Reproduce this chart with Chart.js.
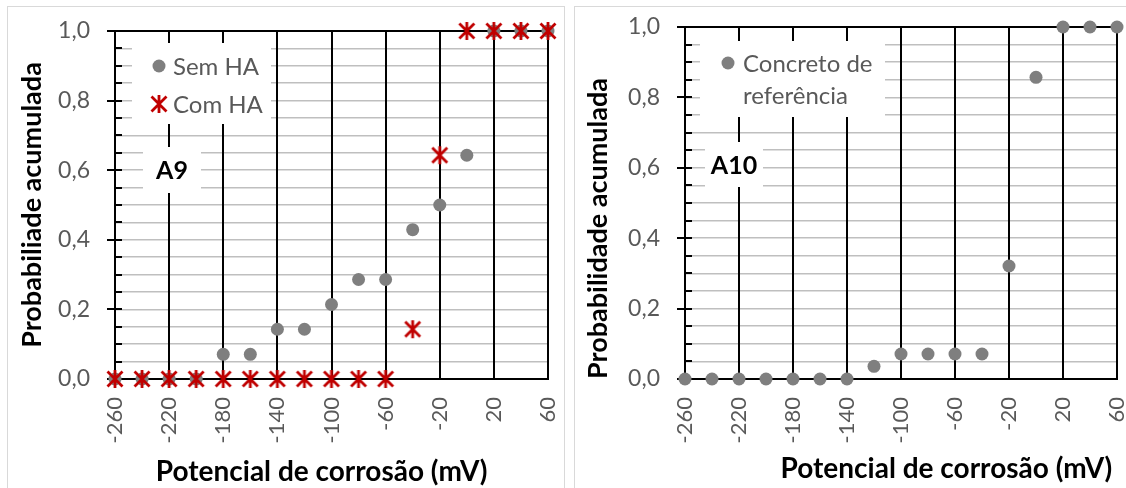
<!DOCTYPE html>
<html>
<head>
<meta charset="utf-8">
<title>Probabilidade acumulada - potencial de corrosão</title>
<script src="https://cdn.jsdelivr.net/npm/chart.js@4.4.1/dist/chart.umd.min.js"></script>
<style>
  body { margin: 0; background: #fff; width: 1126px; height: 488px; overflow: hidden; position: relative; }
  .panel { position: absolute; top: 6px; height: 500px; border: 1px solid #d9d9d9; overflow: hidden; background: #fff; }
  #panelA9 { left: 7px; width: 556px; }
  #panelA10 { left: 574px; width: 560px; }
  .panel canvas { position: absolute; left: 0; top: 0; }
</style>
</head>
<body>
<div class="panel" id="panelA9"><canvas id="chartA9" width="554" height="481"></canvas></div>
<div class="panel" id="panelA10"><canvas id="chartA10" width="552" height="481"></canvas></div>

<script>
// potencial de corrosão (mV) for every sample point
const potentials = [-260, -240, -220, -200, -180, -160, -140, -120, -100, -80, -60, -40, -20, 0, 20, 40, 60];

// A9
const semHA = [0, 0, 0, 0, 0.071, 0.071, 0.143, 0.143, 0.214, 0.286, 0.286, 0.429, 0.5, 0.643, 1, 1, 1];
const comHA = [0, 0, 0, 0, 0, 0, 0, 0, 0, 0, 0, 0.143, 0.643, 1, 1, 1, 1];

// A10
const referencia = [0, 0, 0, 0, 0, 0, 0, 0.036, 0.071, 0.071, 0.071, 0.071, 0.321, 0.857, 1, 1, 1];

const xTicks = [-260, -220, -180, -140, -100, -60, -20, 20, 60];
const xTickLabels = ['-260', '-220', '-180', '-140', '-100', '-60', '-20', '20', '60'];
const yTicks = [0, 0.05, 0.1, 0.15, 0.2, 0.25, 0.3, 0.35, 0.4, 0.45, 0.5,
                0.55, 0.6, 0.65, 0.7, 0.75, 0.8, 0.85, 0.9, 0.95, 1];
const yTickLabels = ['0,0', '', '', '', '0,2', '', '', '', '0,4', '', '',
                     '', '0,6', '', '', '', '0,8', '', '', '', '1,0'];

const GRAY = '#7f7f7f';
const RED = '#c00000';
const TEXT = '#595959';
const FONT = 'Lato, "Open Sans", sans-serif';

// asterisk-like marker: an X with a vertical stroke through it
function starMarker(size, color, width) {
  const c = document.createElement('canvas');
  c.width = size;
  c.height = size;
  const g = c.getContext('2d');
  g.strokeStyle = color;
  g.lineWidth = width;
  const m = 2.5;
  g.beginPath();
  g.moveTo(m, m); g.lineTo(size - m, size - m);
  g.moveTo(size - m, m); g.lineTo(m, size - m);
  g.moveTo(size / 2, 1); g.lineTo(size / 2, size - 1);
  g.stroke();
  return c;
}
const redStar = starMarker(20, RED, 2.8);

function points(values) {
  return potentials.map((x, i) => ({ x: x, y: values[i] }));
}

// frame line, axis tick marks, in-plot legend, panel tag and x title
const panelNotes = {
  id: 'panelNotes',
  beforeDatasetsDraw(chart, args, opts) {
    const { ctx, chartArea: a } = chart;
    const y = chart.scales.y;
    ctx.save();

    ctx.strokeStyle = '#000';
    ctx.lineWidth = 2;
    ctx.beginPath();
    ctx.moveTo(a.left, a.top);
    ctx.lineTo(a.right + 1, a.top);
    ctx.stroke();

    y.ticks.forEach(t => {
      const py = Math.round(y.getPixelForValue(t.value));
      const major = t.label !== '';
      ctx.beginPath();
      ctx.moveTo(a.left - (major ? 8 : 0), py);
      ctx.lineTo(a.left + 7, py);
      ctx.stroke();
    });

    const lg = opts.legend;
    ctx.fillStyle = '#fff';
    ctx.fillRect(a.left + lg.x, a.top + lg.y, lg.w, lg.h);
    ctx.font = lg.size + 'px ' + FONT;
    ctx.textBaseline = 'middle';
    ctx.textAlign = 'left';
    lg.rows.forEach(row => {
      if (row.dataset !== undefined) {
        const ds = chart.data.datasets[row.dataset];
        ctx.fillStyle = ds.backgroundColor || GRAY;
        Chart.helpers.drawPoint(ctx, {
          pointStyle: ds.pointStyle, radius: ds.pointRadius, rotation: 0, borderWidth: 0
        }, a.left + lg.markerX, a.top + row.y);
      }
      ctx.fillStyle = TEXT;
      ctx.fillText(row.text, a.left + lg.textX, a.top + row.y + 1);
    });

    const tag = opts.tag;
    ctx.fillStyle = '#fff';
    ctx.fillRect(a.left + tag.x, a.top + tag.y, tag.w, tag.h);
    ctx.fillStyle = '#000';
    ctx.font = 'bold ' + tag.size + 'px ' + FONT;
    ctx.textAlign = 'center';
    ctx.fillText(tag.text, a.left + tag.x + tag.w / 2, a.top + tag.y + tag.h / 2 + 1);

    const xt = opts.xTitle;
    ctx.font = 'bold ' + xt.size + 'px ' + FONT;
    ctx.textBaseline = 'alphabetic';
    ctx.fillText(xt.text, a.left + xt.center * (a.right - a.left), a.bottom + xt.baseline);

    ctx.restore();
  }
};

function makeChart(id, datasets, p) {
  return new Chart(document.getElementById(id), {
    type: 'scatter',
    data: { datasets: datasets },
    options: {
      responsive: false,
      animation: false,
      events: [],
      layout: { padding: { top: p.top, right: p.right, left: 0, bottom: 0 } },
      plugins: {
        legend: { display: false },
        tooltip: { enabled: false },
        panelNotes: p.notes
      },
      scales: {
        x: {
          type: 'linear',
          min: -260,
          max: 60,
          afterBuildTicks: s => { s.ticks = xTicks.map(v => ({ value: v })); },
          afterFit: s => {
            s.height = p.xHeight;
            s.paddingLeft = 0;
            s.paddingRight = 0;
          },
          // vertical lines go over the light horizontal ones
          grid: { color: '#000', lineWidth: 2, drawTicks: false, z: 0 },
          border: { color: '#000', width: 2 },
          ticks: {
            autoSkip: false,
            minRotation: 90,
            maxRotation: 90,
            padding: 18,
            color: TEXT,
            font: { family: FONT, size: 22 },
            callback: (v, i) => xTickLabels[i]
          }
        },
        y: {
          type: 'linear',
          min: 0,
          max: 1,
          afterBuildTicks: s => { s.ticks = yTicks.map(v => ({ value: v })); },
          afterFit: s => {
            s.width = p.yWidth;
            s.paddingTop = 0;
            s.paddingBottom = 0;
          },
          grid: { color: 'rgb(191, 191, 191)', lineWidth: 1.5, drawTicks: false },
          border: { color: '#000', width: 2 },
          ticks: {
            autoSkip: false,
            padding: 25,
            color: TEXT,
            font: { family: FONT, size: 23 },
            callback: (v, i) => yTickLabels[i]
          },
          title: {
            display: true,
            text: p.yTitle,
            align: p.yTitleAlign,
            color: '#000',
            font: { family: FONT, size: 27, weight: 'bold' },
            padding: { top: p.yTitlePad, bottom: 0 }
          }
        }
      }
    },
    plugins: [panelNotes]
  });
}

makeChart('chartA9', [
  {
    label: 'Sem HA',
    data: points(semHA),
    backgroundColor: GRAY,
    pointStyle: 'circle',
    pointRadius: 6.5,
    pointBorderWidth: 0,
    clip: false,
    order: 2
  },
  {
    label: 'Com HA',
    data: points(comHA),
    backgroundColor: RED,
    pointStyle: redStar,
    pointRadius: 10,
    clip: false,
    order: 1
  }
], {
  top: 24, right: 14, yWidth: 107, xHeight: 109,
  yTitle: 'Probabiliade acumulada', yTitleAlign: 'center', yTitlePad: 8,
  notes: {
    legend: {
      x: 17, y: 12, w: 139, h: 81, size: 24, markerX: 44, textX: 58,
      rows: [{ dataset: 0, text: 'Sem HA', y: 35 }, { dataset: 1, text: 'Com HA', y: 73 }]
    },
    tag: { text: 'A9', x: 28, y: 116, w: 58, h: 46, size: 25 },
    xTitle: { text: 'Potencial de corrosão (mV)', size: 28, center: 0.477, baseline: 102 }
  }
});

makeChart('chartA10', [
  {
    label: 'Concreto de referência',
    data: points(referencia),
    backgroundColor: GRAY,
    pointStyle: 'circle',
    pointRadius: 6.5,
    pointBorderWidth: 0,
    clip: false
  }
], {
  top: 20, right: 10, yWidth: 110, xHeight: 109,
  yTitle: 'Probabilidade acumulada', yTitleAlign: 'start', yTitlePad: 7,
  notes: {
    legend: {
      x: 15, y: 14, w: 185, h: 76, size: 24, markerX: 43, textX: 58,
      rows: [{ dataset: 0, text: 'Concreto de', y: 36 }, { text: 'referência', y: 68 }]
    },
    tag: { text: 'A10', x: 20, y: 115, w: 58, h: 45, size: 25 },
    xTitle: { text: 'Potencial de corrosão (mV)', size: 28, center: 0.605, baseline: 99 }
  }
});
</script>
</body>
</html>
